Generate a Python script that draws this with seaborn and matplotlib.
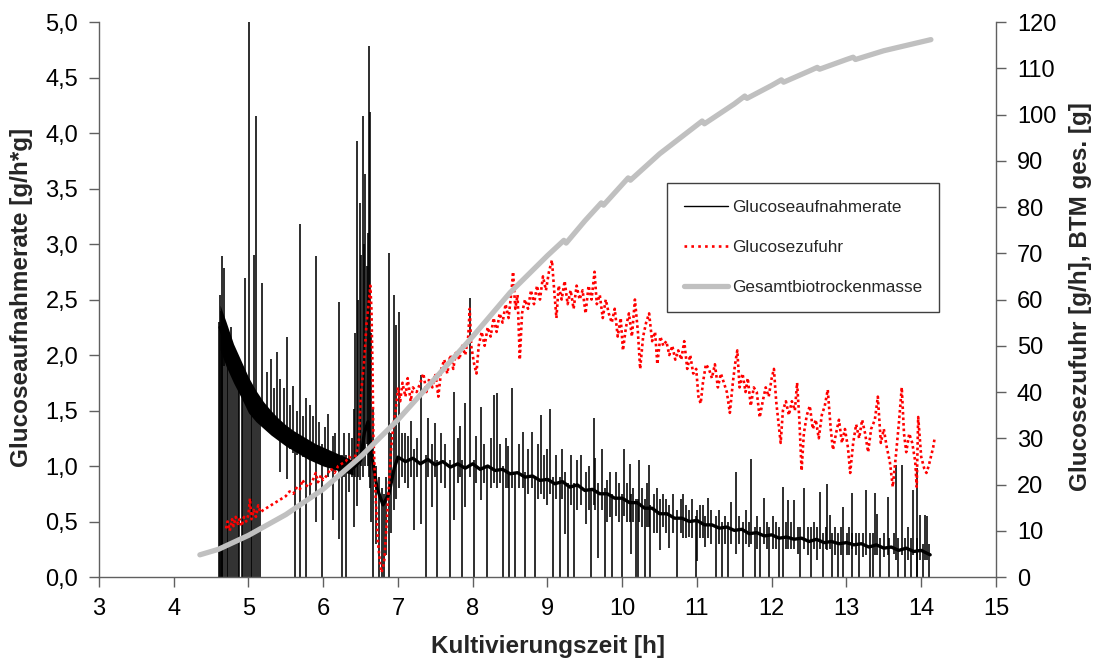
import matplotlib
matplotlib.use('Agg')
import matplotlib.pyplot as plt
from matplotlib.lines import Line2D
from matplotlib.ticker import FuncFormatter
import seaborn as sns

# ─────────────────────────────────────────
# Data
# ─────────────────────────────────────────
# Gesamtbiotrockenmasse [g] (right axis)
btm_t = [4.35, 4.6, 5.0, 5.5, 6.0, 6.5, 7.0, 7.5, 8.0, 8.5, 9.0, 9.22, 9.25,
         9.5, 9.72, 9.75, 10.08, 10.11, 10.5, 11.07, 11.1, 11.5, 11.64, 11.67,
         12.0, 12.13, 12.16, 12.5, 12.61, 12.64, 13.0, 13.09, 13.12, 13.5, 14.13]
btm_g = [4.8, 6.0, 9.0, 13.5, 19.0, 26.0, 34.0, 43.0, 52.0, 61.5, 69.5, 72.8, 72.2,
         77.0, 80.9, 80.4, 86.3, 85.8, 91.5, 98.6, 98.0, 102.3, 104.0, 103.5,
         106.3, 107.5, 107.0, 109.4, 110.2, 109.8, 111.9, 112.4, 111.9, 113.8, 116.2]

# Glucosezufuhr [g/h] (right axis)
feed_t = [4.70, 4.72, 4.75, 4.78, 4.80, 4.83, 4.86, 4.88, 4.91, 4.94, 4.97, 5.00,
          5.02, 5.04, 5.07, 5.10, 5.13, 5.16, 5.20, 5.25, 5.30, 5.35, 5.40, 5.45,
          5.50, 5.55, 5.60, 5.65, 5.69, 5.72, 5.76, 5.80, 5.85, 5.90, 5.93, 5.97,
          6.00, 6.05, 6.10, 6.15, 6.20, 6.25, 6.30, 6.35, 6.40, 6.45, 6.48, 6.50,
          6.52, 6.55, 6.58, 6.60, 6.62, 6.63, 6.645, 6.66, 6.67, 6.70, 6.73, 6.76,
          6.78, 6.80, 6.82, 6.85, 6.88, 6.91, 6.94, 6.97]
feed_g = [10.5, 12.0, 10.0, 12.5, 11.0, 13.0, 11.5, 12.5, 11.0, 13.0, 12.0, 13.5,
          17.0, 12.5, 14.5, 13.0, 15.5, 14.0, 14.5, 15.0, 15.5, 16.0, 16.5, 17.0,
          17.5, 18.5, 18.0, 19.5, 19.0, 21.0, 20.0, 19.5, 20.5, 22.5, 20.5, 22.0,
          21.0, 22.0, 23.5, 22.5, 24.0, 24.5, 25.0, 26.0, 25.0, 27.0, 30.0, 38.0,
          42.0, 47.0, 55.0, 58.0, 61.0, 63.0, 58.0, 45.0, 31.0, 18.0, 8.0, 3.0,
          1.0, 2.0, 4.0, 12.0, 20.0, 28.0, 33.0, 36.0]
feed_t2 = [7.00, 7.03, 7.06, 7.10, 7.13, 7.17, 7.20, 7.25, 7.30, 7.34, 7.38, 7.42,
           7.46, 7.50, 7.54, 7.58, 7.62, 7.66, 7.70, 7.74, 7.78, 7.82, 7.86, 7.90,
           7.94, 7.96, 7.98, 8.02, 8.05, 8.08, 8.12, 8.16, 8.20, 8.24, 8.28, 8.32,
           8.36, 8.40, 8.44, 8.48, 8.52, 8.54, 8.57, 8.60, 8.63, 8.66, 8.70, 8.74,
           8.78, 8.82, 8.86, 8.90, 8.94, 8.98, 9.02, 9.06, 9.09, 9.12, 9.15, 9.19,
           9.23, 9.27, 9.31, 9.35, 9.39, 9.43, 9.47, 9.51, 9.55, 9.59, 9.63, 9.66,
           9.70, 9.74, 9.78, 9.82, 9.86, 9.90, 9.94, 9.98]
feed_g2 = [41, 38, 42, 39, 43, 38, 41, 40, 42, 44, 40, 43,
           41, 44, 39, 45, 47, 44, 48, 45, 49, 47, 50, 48,
           52, 58, 50, 46, 44, 50, 53, 50, 54, 52, 56, 53,
           57, 55, 59, 56, 62, 66, 58, 61, 47, 57, 60, 58,
           62, 59, 63, 60, 65, 62, 66, 68.5, 62, 56, 63, 60,
           64, 59, 62, 58, 63, 60, 62, 57, 63, 60, 66, 59,
           61, 56, 60, 57, 55, 58, 52, 56]
feed_t3 = [10.01, 10.05, 10.09, 10.13, 10.17, 10.21, 10.24, 10.28, 10.32, 10.36,
           10.40, 10.44, 10.47, 10.51, 10.55, 10.59, 10.63, 10.67, 10.71, 10.75,
           10.79, 10.83, 10.87, 10.91, 10.95, 10.99, 11.02, 11.05, 11.08, 11.12,
           11.16, 11.20, 11.24, 11.28, 11.32, 11.36, 11.40, 11.44, 11.48, 11.51,
           11.54, 11.57, 11.61, 11.65, 11.68, 11.72, 11.76, 11.80, 11.84, 11.88,
           11.92, 11.96, 12.00, 12.03, 12.06, 12.10, 12.12, 12.15, 12.19, 12.23]
feed_g3 = [49, 54, 57, 52, 60, 53, 45, 52, 55, 57,
           51, 53, 46, 52, 50, 51, 48, 50, 47, 49,
           47, 51, 45, 48, 44, 45, 39, 37.5, 42, 46,
           45, 43, 46, 41, 44, 42, 40, 35.5, 42, 46,
           49, 41, 44, 40, 43, 37, 41, 40, 34.5, 38,
           41, 39, 43, 45, 38, 32, 29, 36, 38, 35]
feed_t4 = [12.27, 12.31, 12.34, 12.37, 12.40, 12.43, 12.47, 12.51, 12.55, 12.59,
           12.63, 12.67, 12.71, 12.75, 12.79, 12.82, 12.86, 12.90, 12.94, 12.98,
           13.02, 13.05, 13.09, 13.13, 13.17, 13.21, 13.25, 13.29, 13.33, 13.38,
           13.42, 13.46, 13.50, 13.54, 13.58, 13.62, 13.66, 13.70, 13.74, 13.77,
           13.80, 13.84, 13.88, 13.92, 13.94, 13.96, 14.00, 14.04, 14.07, 14.10,
           14.13, 14.16, 14.18]
feed_g4 = [38, 36, 42, 34, 23, 31, 35, 37, 32, 34,
           30, 35, 37, 40.5, 32, 27.5, 31, 34, 29, 32,
           28, 22.5, 29, 33, 30, 34, 31, 27, 32, 34,
           39, 29, 32, 28, 25, 19.5, 26, 33, 41, 31,
           27, 31, 29, 25, 19.5, 34.6, 26, 23.5, 22.5, 24,
           26, 28, 30]

# Glucoseaufnahmerate [g/h*g] (left axis): band centre ...
rate_t = [4.62, 4.70, 4.80, 4.90, 5.00, 5.10, 5.20, 5.30, 5.40, 5.50, 5.60,
          5.70, 5.80, 5.90, 6.00, 6.10, 6.20, 6.30, 6.40, 6.50, 6.55, 6.60,
          6.65, 6.72, 6.80, 6.88, 6.95, 7.00, 7.10, 7.20, 7.30, 7.40, 7.50,
          7.60, 7.70, 7.80, 7.90, 8.00, 8.10, 8.20, 8.30, 8.40, 8.50, 8.60,
          8.70, 8.80, 8.90, 9.00, 9.10, 9.20, 9.30, 9.40, 9.50, 9.60, 9.70,
          9.80, 9.90, 10.0, 10.1, 10.2, 10.3, 10.4, 10.5, 10.6, 10.7, 10.8,
          10.9, 11.0, 11.1, 11.2, 11.3, 11.4, 11.5, 11.6, 11.7, 11.8, 11.9,
          12.0, 12.1, 12.2, 12.3, 12.4, 12.5, 12.6, 12.7, 12.8, 12.9, 13.0,
          13.1, 13.2, 13.3, 13.4, 13.5, 13.6, 13.7, 13.8, 13.9, 14.0, 14.12]
rate_v = [2.25, 2.10, 1.92, 1.78, 1.65, 1.55, 1.46, 1.39, 1.33, 1.28, 1.23,
          1.19, 1.15, 1.11, 1.08, 1.06, 1.03, 1.01, 0.98, 1.05, 1.30, 1.40,
          1.10, 0.80, 0.65, 0.75, 0.98, 1.08, 1.04, 1.07, 1.02, 1.06, 1.01,
          1.04, 0.99, 1.02, 0.98, 1.02, 0.97, 1.00, 0.96, 0.97, 0.93, 0.94,
          0.90, 0.91, 0.87, 0.88, 0.84, 0.86, 0.81, 0.83, 0.78, 0.79, 0.75,
          0.75, 0.71, 0.71, 0.67, 0.67, 0.62, 0.62, 0.57, 0.57, 0.53, 0.53,
          0.50, 0.51, 0.47, 0.47, 0.44, 0.45, 0.42, 0.43, 0.39, 0.40, 0.37,
          0.38, 0.35, 0.36, 0.34, 0.35, 0.32, 0.34, 0.31, 0.32, 0.30, 0.31,
          0.29, 0.30, 0.27, 0.29, 0.26, 0.27, 0.24, 0.26, 0.23, 0.24, 0.20]
# ... band envelope of the early phase
band_t = [4.62, 4.70, 4.80, 4.90, 5.00, 5.10, 5.20, 5.30, 5.40, 5.50,
          5.60, 5.70, 5.80, 5.90, 6.00, 6.10, 6.20, 6.30, 6.40]
band_lo = [2.05, 1.90, 1.75, 1.62, 1.48, 1.40, 1.34, 1.28, 1.23, 1.18,
           1.14, 1.10, 1.06, 1.03, 1.00, 0.98, 0.96, 0.94, 0.92]
band_hi = [2.45, 2.30, 2.10, 1.95, 1.80, 1.68, 1.58, 1.50, 1.43, 1.37,
           1.32, 1.28, 1.24, 1.20, 1.17, 1.14, 1.11, 1.08, 1.05]

# ... and single-sample spikes: (time, from, to)
spikes_start = [
    (4.61, 0, 2.3), (4.62, 0, 2.54), (4.635, 0, 2.4), (4.64, 0, 2.2), (4.65, 0, 2.89),
    (4.665, 0, 2.3), (4.67, 1.9, 2.78), (4.69, 0, 2.2), (4.71, 0, 2.15), (4.73, 0, 2.1),
    (4.75, 0, 2.05), (4.76, 1.9, 2.25), (4.78, 0, 1.95), (4.80, 0, 1.9), (4.83, 0, 1.85),
    (4.86, 0, 1.8), (4.88, 0, 1.75), (4.91, 0, 1.7), (4.93, 0, 1.7), (4.95, 0, 2.69),
    (4.98, 0, 1.65), (5.01, 0, 5.0), (5.03, 0, 1.6), (5.05, 0, 1.55), (5.07, 0, 2.9),
    (5.10, 0, 4.15), (5.13, 0, 1.5), (5.16, 0, 1.5), (5.18, 1.4, 2.65),
    (5.25, 1.35, 1.85), (5.30, 1.3, 1.96), (5.34, 1.3, 1.7), (5.38, 1.25, 2.03),
    (5.42, 0.95, 1.78), (5.47, 1.2, 1.7), (5.52, 0.88, 2.16), (5.56, 1.15, 1.55),
    (5.60, 1.12, 1.72), (5.62, 0, 1.3), (5.65, 1.1, 1.5), (5.69, 0, 3.18),
    (5.73, 1.08, 1.45), (5.77, 0, 1.61), (5.82, 0.72, 1.55), (5.86, 1.05, 1.45),
    (5.90, 0.5, 2.89), (5.94, 1.02, 1.4), (5.99, 0, 1.2), (6.03, 1.0, 1.35),
    (6.07, 0.9, 1.47), (6.13, 0.51, 1.27), (6.16, 0.95, 1.3), (6.21, 0.34, 2.48),
    (6.25, 0, 1.1), (6.28, 0.9, 1.3), (6.31, 0, 1.1), (6.35, 0.77, 1.3), (6.38, 0.9, 1.25),
]
spikes_feed = [
    (6.41, 0.45, 1.51), (6.43, 0.9, 2.2), (6.45, 0.64, 3.93), (6.47, 0.9, 2.5),
    (6.49, 0.87, 3.37), (6.51, 1.0, 2.9), (6.53, 0.9, 4.15), (6.545, 1.1, 3.0),
    (6.56, 1.0, 3.63), (6.58, 1.2, 2.8), (6.595, 1.0, 3.1), (6.61, 0.9, 4.78),
    (6.63, 0.8, 4.19), (6.645, 0.5, 2.2), (6.66, 0, 1.53), (6.70, 0.3, 1.0),
    (6.74, 0, 0.9), (6.78, 0, 0.8), (6.81, 0, 0.75), (6.84, 0.2, 0.9), (6.88, 0, 2.92),
    (6.91, 0.4, 1.3), (6.95, 0.6, 2.54), (6.98, 0.7, 2.27), (7.02, 0.8, 2.39),
    (7.05, 0.9, 1.3),
]
spikes_mid = [
    (7.09, 0.85, 1.3), (7.14, 0.8, 1.27), (7.18, 0.9, 1.41), (7.21, 0.42, 1.15),
    (7.26, 0.9, 1.25), (7.31, 0.48, 1.82), (7.37, 0, 1.1), (7.40, 0.9, 1.43),
    (7.45, 0.63, 1.2), (7.50, 0.9, 1.39), (7.52, 0, 1.05), (7.58, 0.85, 1.3),
    (7.63, 0.8, 1.2), (7.69, 0, 1.05), (7.75, 0.51, 1.67), (7.80, 0.85, 1.25),
    (7.83, 0.9, 1.36), (7.86, 0, 1.05), (7.90, 0.63, 1.57), (7.96, 0.9, 2.51),
    (8.02, 0, 1.05), (8.05, 0.85, 1.27), (8.11, 0.69, 1.53), (8.15, 0.85, 1.2),
    (8.19, 0, 1.0), (8.24, 0.8, 1.25), (8.28, 0.85, 1.64), (8.32, 0.8, 1.66),
    (8.36, 0.85, 1.2), (8.41, 0, 1.0), (8.44, 0.8, 1.25), (8.47, 0.8, 1.18),
    (8.48, 0, 0.95), (8.53, 0.8, 1.70), (8.57, 0, 0.95), (8.62, 0.8, 1.2),
    (8.67, 0.8, 1.31), (8.70, 0, 0.95), (8.74, 0.75, 1.15), (8.79, 0.8, 1.31),
    (8.83, 0, 0.9), (8.87, 0.7, 1.2), (8.92, 0.75, 1.46), (8.96, 0.7, 1.1),
    (9.00, 0.65, 1.15), (9.04, 0.75, 1.51), (9.08, 0, 0.9), (9.12, 0.7, 1.1),
    (9.17, 0, 0.9), (9.20, 0.7, 1.15), (9.24, 0.39, 0.95), (9.28, 0, 0.85),
    (9.32, 0.65, 1.1), (9.36, 0, 0.85), (9.40, 0.6, 1.05), (9.45, 0.65, 1.1),
    (9.52, 0.48, 0.95), (9.55, 0.6, 1.0), (9.58, 0, 0.8), (9.62, 0.65, 1.43),
    (9.64, 0.6, 1.07), (9.68, 0.17, 0.85), (9.73, 0.6, 1.15), (9.77, 0, 0.8),
    (9.80, 0.5, 0.87), (9.84, 0.54, 0.95), (9.87, 0, 0.75), (9.92, 0.55, 0.95),
    (9.96, 0.5, 0.85), (10.00, 0, 0.75), (10.03, 0.55, 1.15), (10.07, 0.5, 0.85),
    (10.10, 0.5, 1.02), (10.12, 0.21, 0.75), (10.15, 0.5, 0.8), (10.19, 0, 0.7),
    (10.21, 0, 0.7), (10.22, 0.5, 1.05), (10.26, 0.45, 0.8), (10.30, 0, 0.7),
    (10.33, 0.45, 0.85), (10.36, 0.45, 1.01), (10.37, 0, 0.65), (10.42, 0.4, 0.75),
    (10.46, 0.4, 0.8), (10.50, 0.24, 0.7), (10.55, 0.45, 0.75), (10.59, 0.4, 0.7),
    (10.63, 0.26, 0.65), (10.68, 0.4, 0.75), (10.73, 0, 0.6), (10.78, 0.4, 0.7),
    (10.82, 0.35, 0.75), (10.86, 0.35, 0.65), (10.90, 0.36, 0.6), (10.94, 0.35, 0.7),
]
spikes_late = [
    (10.99, 0, 0.55), (11.00, 0.14, 0.6), (11.04, 0.35, 0.65), (11.08, 0.35, 0.65),
    (11.11, 0.27, 0.55), (11.15, 0.35, 0.71), (11.19, 0.3, 0.6), (11.25, 0, 0.55),
    (11.29, 0.3, 0.6), (11.33, 0, 0.5), (11.37, 0.3, 0.55), (11.42, 0, 0.5),
    (11.46, 0.3, 0.68), (11.52, 0.21, 0.95), (11.56, 0.3, 0.55), (11.62, 0, 0.5),
    (11.66, 0.3, 0.6), (11.70, 0.27, 0.5), (11.72, 0.3, 1.06), (11.77, 0, 0.45),
    (11.81, 0.25, 0.55), (11.85, 0, 0.45), (11.90, 0.3, 0.71), (11.94, 0.25, 0.5),
    (11.97, 0, 0.45), (12.02, 0.25, 0.55), (12.06, 0.25, 0.5), (12.10, 0, 0.45),
    (12.15, 0, 0.81), (12.19, 0.25, 0.5), (12.22, 0.25, 0.69), (12.26, 0.25, 0.5),
    (12.30, 0.25, 0.69), (12.35, 0.21, 0.45), (12.38, 0, 0.45), (12.43, 0.25, 0.80),
    (12.48, 0.2, 0.45), (12.53, 0, 0.45), (12.57, 0.25, 0.5), (12.60, 0.15, 0.45),
    (12.65, 0.25, 0.77), (12.68, 0, 0.4), (12.72, 0.25, 0.45), (12.74, 0.24, 0.84),
    (12.78, 0.25, 0.56), (12.81, 0, 0.4), (12.85, 0.2, 0.45), (12.89, 0, 0.4),
    (12.93, 0.2, 0.45), (12.96, 0, 0.63), (13.01, 0.2, 0.4), (13.04, 0.2, 0.45),
    (13.07, 0, 0.4), (13.08, 0.25, 0.76), (13.13, 0.2, 0.4), (13.17, 0, 0.4),
    (13.22, 0.18, 0.4), (13.26, 0.2, 0.78), (13.31, 0, 0.4), (13.36, 0, 0.4),
    (13.38, 0.2, 0.76), (13.41, 0.2, 0.57), (13.45, 0, 0.35), (13.50, 0.18, 0.4),
    (13.55, 0.2, 0.72), (13.57, 0, 0.35), (13.63, 0.21, 0.4), (13.66, 0.15, 1.01),
    (13.69, 0, 0.35), (13.74, 0.2, 1.01), (13.78, 0, 0.35), (13.82, 0.15, 0.45),
    (13.87, 0, 0.35), (13.89, 0.2, 0.78), (13.94, 0, 0.35), (13.95, 0, 0.98),
    (13.98, 0.15, 0.56), (14.03, 0, 0.3), (14.05, 0.15, 0.56), (14.08, 0.15, 0.55),
    (14.10, 0, 0.3),
]

x_ticks = list(range(3, 16))
left_ticks = [0.0, 0.5, 1.0, 1.5, 2.0, 2.5, 3.0, 3.5, 4.0, 4.5, 5.0]
right_ticks = list(range(0, 121, 10))

labels = ['Glucoseaufnahmerate', 'Glucosezufuhr', 'Gesamtbiotrockenmasse']

# ─────────────────────────────────────────
# Style
# ─────────────────────────────────────────
sns.set_theme(style='white')
plt.rcParams['font.family'] = ['Liberation Sans', 'DejaVu Sans']

AXIS_COL = '#606060'
FEED_COL = '#ff0000'
BTM_COL = '#c0c0c0'

fig = plt.figure(figsize=(10.96, 6.64), dpi=100)
ax = fig.add_axes([0.0903, 0.1310, 0.8184, 0.8358])
ax2 = ax.twinx()

# ─────────────────────────────────────────
# Left axis: uptake rate
# ─────────────────────────────────────────
ax.fill_between(band_t, band_lo, band_hi, color='black', lw=0)
sns.lineplot(x=rate_t, y=rate_v, ax=ax, color='black', lw=2.4,
             estimator=None, sort=False)
for spikes in (spikes_start, spikes_feed, spikes_mid, spikes_late):
    st, slo, shi = zip(*spikes)
    ax.vlines(st, slo, shi, colors='black', lw=1.15)

# ─────────────────────────────────────────
# Right axis: feed and dry mass
# ─────────────────────────────────────────
feed_all_t = feed_t + feed_t2 + feed_t3 + feed_t4
feed_all_g = feed_g + feed_g2 + feed_g3 + feed_g4
sns.lineplot(x=feed_all_t, y=feed_all_g, ax=ax2, color=FEED_COL, lw=1.9,
             linestyle=(0, (1, 1.1)), estimator=None, sort=False)
sns.lineplot(x=btm_t, y=btm_g, ax=ax2, color=BTM_COL, lw=3.8,
             estimator=None, sort=False, solid_capstyle='round')

# ─────────────────────────────────────────
# Axes, ticks, labels
# ─────────────────────────────────────────
ax.set_xlim(3, 15)
ax.set_ylim(0, 5)
ax2.set_ylim(0, 120)
ax.set_xticks(x_ticks)
ax.set_yticks(left_ticks)
ax2.set_yticks(right_ticks)
ax.yaxis.set_major_formatter(FuncFormatter(lambda v, p: f'{v:.1f}'.replace('.', ',')))
ax2.yaxis.set_major_formatter(FuncFormatter(lambda v, p: f'{int(v)}'))

for a in (ax, ax2):
    a.grid(False)
    a.set_xlabel('')
    a.set_ylabel('')
    a.spines['top'].set_visible(False)
    for s in ('left', 'right', 'bottom'):
        a.spines[s].set_color(AXIS_COL)
        a.spines[s].set_linewidth(1.0)
    a.tick_params(direction='out', length=7, width=1.0, color=AXIS_COL,
                  labelsize=17, labelcolor='black')
ax.spines['right'].set_visible(False)
ax2.spines['left'].set_visible(False)
ax2.spines['bottom'].set_visible(False)
ax.tick_params(axis='x', bottom=True, pad=8)
ax.tick_params(axis='y', left=True, pad=8)
ax2.tick_params(axis='y', right=True, pad=8)

fig.text(548 / 1096, 1 - 646 / 664, 'Kultivierungszeit [h]', ha='center',
         va='center', fontsize=17.5, fontweight='bold')
fig.text(22 / 1096, 1 - 297 / 664, 'Glucoseaufnahmerate [g/h*g]', ha='center',
         va='center', rotation=90, fontsize=17.5, fontweight='bold')
fig.text(1080 / 1096, 1 - 297 / 664, 'Glucosezufuhr [g/h], BTM ges. [g]',
         ha='center', va='center', rotation=90, fontsize=17.5, fontweight='bold')

handles = [
    Line2D([], [], color='black', lw=1.0),
    Line2D([], [], color=FEED_COL, lw=1.9, linestyle=(0, (1, 1.6))),
    Line2D([], [], color=BTM_COL, lw=3.8),
]
leg = ax2.legend(handles, labels, loc='upper left', bbox_to_anchor=(0.633, 0.71),
                 borderaxespad=0, frameon=True, fancybox=False, framealpha=1,
                 edgecolor='#404040', fontsize=12.3, handlelength=2.6,
                 handletextpad=0.2, labelspacing=1.45, borderpad=1.0)
leg.get_frame().set_linewidth(1.0)

fig.savefig('out.png', dpi=100)
print("saved out.png")
